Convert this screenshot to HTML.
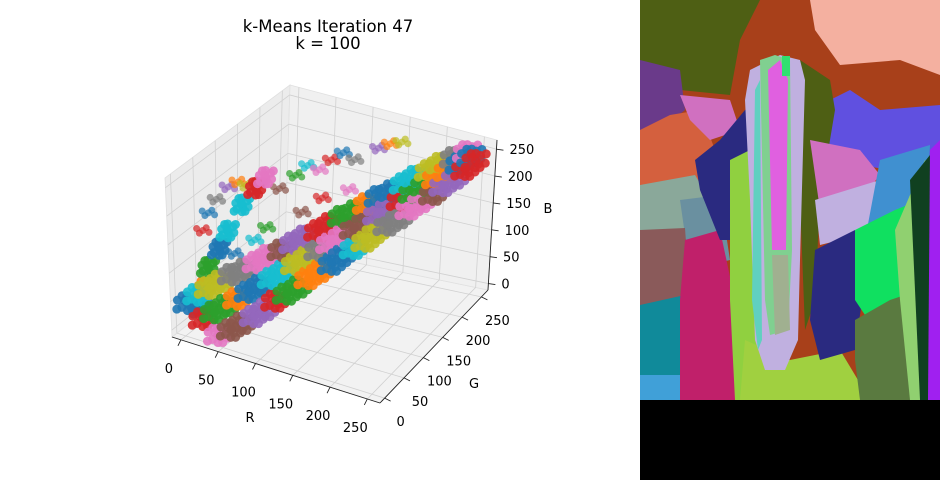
<!DOCTYPE html>
<html><head><meta charset="utf-8"><style>
body{margin:0;background:#fff;}
svg{display:block;font-family:"DejaVu Sans","Liberation Sans",sans-serif;}
</style></head><body>
<svg id="fig" width="940" height="480" viewBox="0 0 940 480" xmlns="http://www.w3.org/2000/svg">
<rect width="940" height="480" fill="#fff"/>
<text x="328" y="32" font-size="16.5" text-anchor="middle">k-Means Iteration 47</text>
<text x="328" y="49" font-size="16.5" text-anchor="middle">k = 100</text>
<g id="axes3d"></g>
<g id="img" transform="translate(640,0)">
<rect width="300" height="400" fill="#a8401a"/>
<path d="M0 0H120L100 40L90 95L40 90L0 70Z" fill="#4e5f14"/>
<path d="M170 0H300V75L260 60L200 65L175 30Z" fill="#f4b0a0"/>
<path d="M160 90L190 100L210 90L240 110L300 105V160L250 170L190 160L170 120Z" fill="#6050e0"/>
<path d="M0 60L40 70L45 110L20 130L0 130Z" fill="#6a3a8a"/>
<path d="M0 130L30 115L60 110L75 150L60 180L0 185Z" fill="#d4603e"/>
<path d="M40 95L90 100L100 130L70 140L50 120Z" fill="#d070c0"/>
<path d="M0 185L55 175L70 200L60 230L0 235Z" fill="#8aa89a"/>
<path d="M40 200L80 195L90 260L50 270Z" fill="#6a90a0"/>
<path d="M0 230L45 228L50 300L0 310Z" fill="#8a5a5a"/>
<path d="M0 305L45 295L40 380L0 380Z" fill="#108a9a"/>
<path d="M0 375L45 375L40 400H0Z" fill="#40a0d8"/>
<path d="M45 240L80 230L95 300L100 400H40L40 300Z" fill="#c0206a"/>
<path d="M55 160L80 140L105 110L120 100L115 200L100 240L80 240L60 190Z" fill="#2a2a80"/>
<path d="M90 160L110 150L115 300L120 400H95L90 300Z" fill="#90d040"/>
<path d="M100 400L105 340L150 360L200 350L230 400Z" fill="#a0d040"/>
<path d="M160 60L190 80L195 110L180 200L175 300L165 330L160 200Z" fill="#4e5f14"/>
<path d="M170 140L220 150L240 175L220 200L180 210Z" fill="#d070c0"/>
<path d="M175 200L240 180L260 175L250 220L200 240L180 245Z" fill="#c0b0e0"/>
<path d="M175 250L215 230L225 280L215 350L180 360L170 320Z" fill="#2a2a80"/>
<path d="M240 160L290 145L285 220L270 300L235 300L225 240Z" fill="#4090d0"/>
<path d="M215 230L255 210L280 200L275 320L235 330L215 300Z" fill="#10e060"/>
<path d="M215 320L250 300L280 290L275 400H220L215 360Z" fill="#5a7a40"/>
<path d="M255 230L285 160L290 170L285 400H270L260 300Z" fill="#90d070"/>
<path d="M270 180L290 155L295 400H280Z" fill="#104020"/>
<path d="M290 150L300 140V400H288Z" fill="#a020f0"/>
<path d="M110 70L140 55L160 60L165 80L160 260L158 340L145 370L125 370L115 340L110 200L105 100Z" fill="#c0b0e0"/>
<path d="M120 60L135 55L150 60L152 250L148 330L130 335L125 300Z" fill="#80d090"/>
<path d="M128 70L140 60L148 80L146 250L132 250Z" fill="#e060e0"/>
<path d="M132 255L148 255L150 330L135 335Z" fill="#a0b090"/>
<path d="M115 90L120 80L122 340L118 350L112 300Z" fill="#60d0c0"/>
<rect x="142" y="56" width="8" height="20" fill="#30e070"/>
</g>
<rect x="640" y="400" width="300" height="80" fill="#000"/>
</svg>
<script>
// data arrays
const rTicks=[0,50,100,150,200,250];
const gTicks=[0,50,100,150,200,250];
const bTicks=[0,50,100,150,200,250];
// dense band clusters: diagonal value t and red-blue offset d
const bandT=[15,15,15,25,25,25,35,35,35,45,45,45,55,55,55,65,65,65,75,75,75,85,85,85,95,95,95,105,105,105,115,115,115,125,125,125,135,135,135,145,145,145,155,155,155,165,165,165,175,175,175,185,185,185,195,195,195,205,205,205,215,215,215,225,225,225,235,235,235,245,245,245];
const bandD=[-20,0,20,-22,0,22,-22,0,22,-22,0,22,-22,0,22,-20,0,20,-20,0,20,-20,0,20,-18,0,18,-18,0,18,-18,0,18,-16,0,16,-16,0,16,-16,0,16,-14,0,14,-14,0,14,-14,0,14,-12,0,12,-12,0,12,-12,0,12,-10,0,10,-10,0,10,-8,0,8,-6,0,6];
// left arm clusters (low R, rising B)
const armR=[10,10,10,15,20,30,40,50];
const armG=[20,30,40,58,70,86,100,105];
const armB=[30,60,90,114,140,180,205,225];
const armColor=["#1f77b4","#ff7f0e","#2ca02c","#1f77b4","#17becf","#17becf","#d62728","#e377c2"];
// sparse points (r,g,b)
const sparseR=[10,15,20,30,40,45,60,70,80,90,100,110,120,140,150,160,90,60,50,130,100,40];
const sparseG=[30,35,45,55,60,70,120,140,150,160,170,180,190,210,220,230,120,90,80,160,150,50];
const sparseB=[160,190,210,230,240,230,200,215,230,220,235,245,230,245,250,250,170,150,130,200,180,120];
const clusterColors=["#1f77b4","#ff7f0e","#2ca02c","#d62728","#9467bd","#8c564b","#e377c2","#7f7f7f","#bcbd22","#17becf"];

const NS="http://www.w3.org/2000/svg";
const C={p000:[172,337],p100:[380,403],p110:[488,290],p010:[285,248],p001:[165,178],p101:[388,250],p111:[497,140],p011:[290,85]};
const LO=-12,HI=267;
function nrm(v){return (v-LO)/(HI-LO);}
function lerp(a,b,t){return [a[0]+(b[0]-a[0])*t,a[1]+(b[1]-a[1])*t];}
function proj(r,g,b){
  const u=nrm(r),v=nrm(g),w=nrm(b);
  const a=lerp(lerp(C.p000,C.p100,u),lerp(C.p010,C.p110,u),v);
  const c=lerp(lerp(C.p001,C.p101,u),lerp(C.p011,C.p111,u),v);
  return lerp(a,c,w);
}
const ax=document.getElementById('axes3d');
function mk(tag,attrs,parent){const e=document.createElementNS(NS,tag);for(const k in attrs)e.setAttribute(k,attrs[k]);(parent||ax).appendChild(e);return e;}
function poly(pts,fill,name){
  const e=mk('polygon',{points:pts.map(p=>p.join(',')).join(' '),fill:fill,stroke:'#e0e0e0','stroke-width':0.8});
  
  
}
function line(p,q,col,w,name){
  const e=mk('line',{x1:p[0],y1:p[1],x2:q[0],y2:q[1],stroke:col,'stroke-width':w});
  
  
}
poly([proj(LO,LO,LO),proj(HI,LO,LO),proj(HI,HI,LO),proj(LO,HI,LO)],'#f2f2f2','bottom-pane');
poly([proj(LO,LO,LO),proj(LO,HI,LO),proj(LO,HI,HI),proj(LO,LO,HI)],'#ececec','left-pane');
poly([proj(LO,HI,LO),proj(HI,HI,LO),proj(HI,HI,HI),proj(LO,HI,HI)],'#f0f0f0','back-pane');
const gc='#d0d0d0';
rTicks.forEach(v=>{line(proj(v,LO,LO),proj(v,HI,LO),gc,0.8,'r-gridline');line(proj(v,HI,LO),proj(v,HI,HI),gc,0.8,'r-gridline');});
gTicks.forEach(v=>{line(proj(HI,v,LO),proj(LO,v,LO),gc,0.8,'g-gridline');line(proj(LO,v,LO),proj(LO,v,HI),gc,0.8,'g-gridline');});
bTicks.forEach(v=>{line(proj(LO,LO,v),proj(LO,HI,v),gc,0.8,'b-gridline');line(proj(LO,HI,v),proj(HI,HI,v),gc,0.8,'b-gridline');});
line(proj(LO,LO,LO),proj(HI,LO,LO),'#222',0.9,'r-axis-line');
line(proj(HI,LO,LO),proj(HI,HI,LO),'#222',0.9,'g-axis-line');
line(proj(HI,HI,LO),proj(HI,HI,HI),'#222',0.9,'b-axis-line');
function txt(p,s,name,anchor){
  const e=mk('text',{x:p[0],y:p[1],'font-size':13,'text-anchor':anchor||'middle',fill:'#000'});
  e.textContent=s;
  
  
}
rTicks.forEach(v=>{const p=proj(v,LO,LO);line(p,[p[0]-3,p[1]+6],'#222',0.9,'r-tick');txt([p[0]-12,p[1]+33],String(v),'r-tick-label');});
gTicks.forEach(v=>{const p=proj(HI,v,LO);line(p,[p[0]+6,p[1]+3],'#222',0.9,'g-tick');txt([p[0]+16,p[1]+28],String(v),'g-tick-label');});
bTicks.forEach(v=>{const p=proj(HI,HI,v);line(p,[p[0]+7,p[1]+1],'#222',0.9,'b-tick');txt([p[0]+13,p[1]+5],String(v),'b-tick-label','start');});
txt([250,422],'R','r-axis-title');txt([474,388],'G','g-axis-title');txt([548,213],'B','b-axis-title');
const offs=[[0,0,0],[1,0,0],[-1,0,0],[0,1,0],[0,-1,0],[0,0,1],[0,0,-1],[.7,.7,.7],[-.7,-.7,-.7],[.7,-.7,.3],[-.7,.7,-.3],[.5,0,-.8],[-.5,0,.8]];
const pts=mk('g',{});


sparseR.forEach((r,i)=>{
  const col=clusterColors[(i*7+3)%10];
  offs.slice(0,5).forEach(o=>{
    const p=proj(r+o[0]*8,sparseG[i]+o[1]*8,sparseB[i]+o[2]*8);
    const c=mk('circle',{cx:p[0],cy:p[1],r:3.5,fill:col,'fill-opacity':0.7},pts);
    
    
  });
});
armR.forEach((r,i)=>{
  offs.forEach(o=>{
    const p=proj(r+o[0]*8,armG[i]+o[1]*12,armB[i]+o[2]*12);
    const c=mk('circle',{cx:p[0],cy:p[1],r:4.5,fill:armColor[i],'fill-opacity':0.9},pts);
    
    
  });
});
bandT.forEach((t,i)=>{
  const d=bandD[i],col=clusterColors[(i*3+Math.floor(i/7))%10];
  offs.forEach(o=>{
    const p=proj(t+d+o[0]*13,t+o[1]*13,t-d+o[2]*13);
    const c=mk('circle',{cx:p[0],cy:p[1],r:4.5,fill:col,'fill-opacity':0.9},pts);
    
    
  });
});
</script>
</body></html>
